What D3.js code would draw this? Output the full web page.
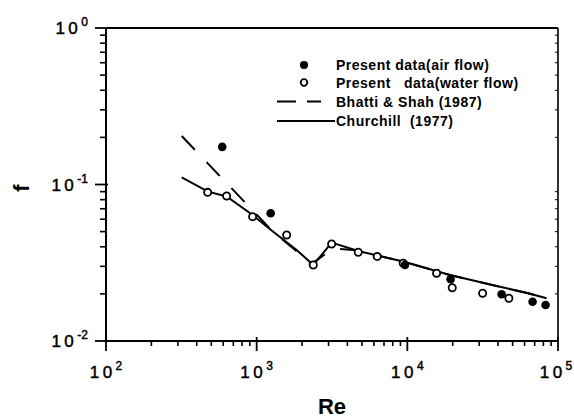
<!DOCTYPE html>
<html>
<head>
<meta charset="utf-8">
<script src="https://cdn.jsdelivr.net/npm/d3@7"></script>
<style>
  html, body { margin: 0; padding: 0; background: #fff; }
  svg { display: block; }
  text { font-family: "Liberation Sans", Arial, Helvetica, sans-serif; fill: #000; }
</style>
</head>
<body>
<svg id="chart" width="574" height="418"></svg>
<script>
// Friction factor f versus Reynolds number Re (log-log)
const airRe = [591, 1239, 9640, 19370, 42260, 67800, 82700];
const airF  = [0.174, 0.0655, 0.0306, 0.0248, 0.0199, 0.0178, 0.0170];

const waterRe = [473, 632, 940, 1582, 2375, 3146, 4722, 6310, 9390, 15640, 19860, 31600, 47200];
const waterF  = [0.0891, 0.0844, 0.0623, 0.0476, 0.0306, 0.0417, 0.0369, 0.0347, 0.0314, 0.0271, 0.0219, 0.0202, 0.01875];

const churchillRe = [318, 475, 632, 940, 1288, 1842, 2375, 3146, 4722, 6310, 9390, 19170, 41150, 63400, 84000];
const churchillF  = [0.111, 0.090, 0.0838, 0.0638, 0.0499, 0.0382, 0.0306, 0.0425, 0.0376, 0.0352, 0.0322, 0.0264, 0.0222, 0.0202, 0.01875];

const bhattiRe = [318, 858, 1269, 1888, 2300, 2941, 3300, 4375, 4722, 6310, 9390, 19170, 41150, 63400, 84000];
const bhattiF  = [0.204, 0.075, 0.0504, 0.0367, 0.031, 0.0367, 0.039, 0.0382, 0.0376, 0.0352, 0.0322, 0.0264, 0.0222, 0.0202, 0.01875];

const xMajorExp = [2, 3, 4, 5];
const yMajorExp = [0, -1, -2];

const legendLabels = ["Present data(air flow)", "Present   data(water flow)", "Bhatti & Shah (1987)", "Churchill  (1977)"];

const svg = d3.select("#chart");
const plotL = 106, plotR = 558, plotT = 28, plotB = 341;

const x = d3.scaleLog().domain([1e2, 1e5]).range([plotL, plotR]);
const y = d3.scaleLog().domain([1e-2, 1]).range([plotB, plotT]);

// minor tick values within each decade
function minors(lo, hi) {
  const out = [];
  for (let e = lo; e < hi; e++) for (let m = 2; m <= 9; m++) out.push(m * Math.pow(10, e));
  return out;
}
const xMinor = minors(2, 5);
const yMinor = minors(-2, 0);

const axes = svg.append("g").attr("stroke", "#000").attr("fill", "none");

// frame
axes.append("line").attr("x1", plotL).attr("x2", plotR).attr("y1", plotB).attr("y2", plotB).attr("stroke-width", 2);
axes.append("line").attr("x1", plotL).attr("x2", plotL).attr("y1", plotT).attr("y2", plotB).attr("stroke-width", 2);
axes.append("line").attr("x1", plotR).attr("x2", plotR).attr("y1", plotT).attr("y2", plotB).attr("stroke-width", 1.6);
axes.append("line").attr("x1", plotL).attr("x2", plotR).attr("y1", plotT).attr("y2", plotT).attr("stroke-width", 1.8);

// x ticks
axes.selectAll(".xmin").data(xMinor).join("line")
  .attr("x1", d => x(d)).attr("x2", d => x(d))
  .attr("y1", plotB).attr("y2", plotB + 5).attr("stroke-width", 1.6);
axes.selectAll(".xmaj").data(xMajorExp).join("line")
  .attr("x1", d => x(Math.pow(10, d))).attr("x2", d => x(Math.pow(10, d)))
  .attr("y1", plotB - 4).attr("y2", plotB + 10).attr("stroke-width", 1.8);

// y ticks (outside on the left, short inward marks on the right)
axes.selectAll(".ymin").data(yMinor).join("line")
  .attr("x1", plotL - 6).attr("x2", plotL)
  .attr("y1", d => y(d)).attr("y2", d => y(d)).attr("stroke-width", 1.6);
axes.selectAll(".ymaj").data(yMajorExp).join("line")
  .attr("x1", plotL - 11).attr("x2", plotL + 2)
  .attr("y1", d => y(Math.pow(10, d))).attr("y2", d => y(Math.pow(10, d))).attr("stroke-width", 1.8);
axes.selectAll(".yrmin").data(yMinor).join("line")
  .attr("x1", plotR - 3).attr("x2", plotR)
  .attr("y1", d => y(d)).attr("y2", d => y(d)).attr("stroke-width", 1);

// tick labels with superscript exponents
function powerLabel(g, exp, anchor) {
  const t = g.append("text").attr("text-anchor", anchor).style("font-size", "17px")
    .attr("stroke", "#000").attr("stroke-width", 0.45);
  t.append("tspan").text("10").style("letter-spacing", "3.5px");
  t.append("tspan").attr("dy", -8).style("font-size", "12px").text(exp < 0 ? "-" + Math.abs(exp) : String(exp));
  return t;
}
xMajorExp.forEach(e => {
  // keep the rightmost label inside the canvas
  const cx = Math.min(x(Math.pow(10, e)), 556);
  powerLabel(svg, e, "middle").attr("x", cx).attr("y", 378);
});
yMajorExp.forEach(e => {
  powerLabel(svg, e, "end").attr("x", 88).attr("y", y(Math.pow(10, e)) + 6);
});

// axis titles
svg.append("text").attr("x", (plotL + plotR) / 2).attr("y", 414).attr("text-anchor", "middle")
  .style("font-size", "22px").style("font-weight", "bold").text("Re");
svg.append("text").attr("transform", "translate(29,188) rotate(-90)").attr("text-anchor", "middle")
  .style("font-size", "22px").style("font-weight", "bold").text("f");

// curves
const line = d3.line().x(d => x(d[0])).y(d => y(d[1]));
const churchill = churchillRe.map((r, i) => [r, churchillF[i]]);
const bhatti = bhattiRe.map((r, i) => [r, bhattiF[i]]);

svg.append("path").datum(churchill).attr("d", line)
  .attr("fill", "none").attr("stroke", "#000").attr("stroke-width", 2);
svg.append("path").datum(bhatti).attr("d", line)
  .attr("fill", "none").attr("stroke", "#000").attr("stroke-width", 2).attr("stroke-dasharray", "19,17");

// data points
const water = waterRe.map((r, i) => [r, waterF[i]]);
const air = airRe.map((r, i) => [r, airF[i]]);
svg.selectAll(".water").data(water).join("circle")
  .attr("cx", d => x(d[0])).attr("cy", d => y(d[1])).attr("r", 3.6)
  .attr("fill", "#fff").attr("stroke", "#000").attr("stroke-width", 1.8);
svg.selectAll(".air").data(air).join("circle")
  .attr("cx", d => x(d[0])).attr("cy", d => y(d[1])).attr("r", 4.3)
  .attr("fill", "#000");

// legend
const lg = svg.append("g");
const rowY = [65, 82.5, 101.5, 121];
lg.append("circle").attr("cx", 304).attr("cy", rowY[0]).attr("r", 4).attr("fill", "#000");
lg.append("circle").attr("cx", 304).attr("cy", rowY[1]).attr("r", 3.3).attr("fill", "#fff").attr("stroke", "#000").attr("stroke-width", 1.8);
lg.append("line").attr("x1", 277).attr("x2", 296).attr("y1", rowY[2]).attr("y2", rowY[2]).attr("stroke", "#000").attr("stroke-width", 2);
lg.append("line").attr("x1", 307).attr("x2", 321).attr("y1", rowY[2]).attr("y2", rowY[2]).attr("stroke", "#000").attr("stroke-width", 2);
lg.append("line").attr("x1", 277).attr("x2", 335).attr("y1", rowY[3]).attr("y2", rowY[3]).attr("stroke", "#000").attr("stroke-width", 2);
lg.selectAll(".lt").data(legendLabels).join("text")
  .attr("x", 336).attr("y", (d, i) => rowY[i] + 5)
  .style("font-size", "14px").style("font-weight", "bold").style("letter-spacing", "0.5px")
  .style("white-space", "pre")
  .text(d => d);
</script>
</body>
</html>
